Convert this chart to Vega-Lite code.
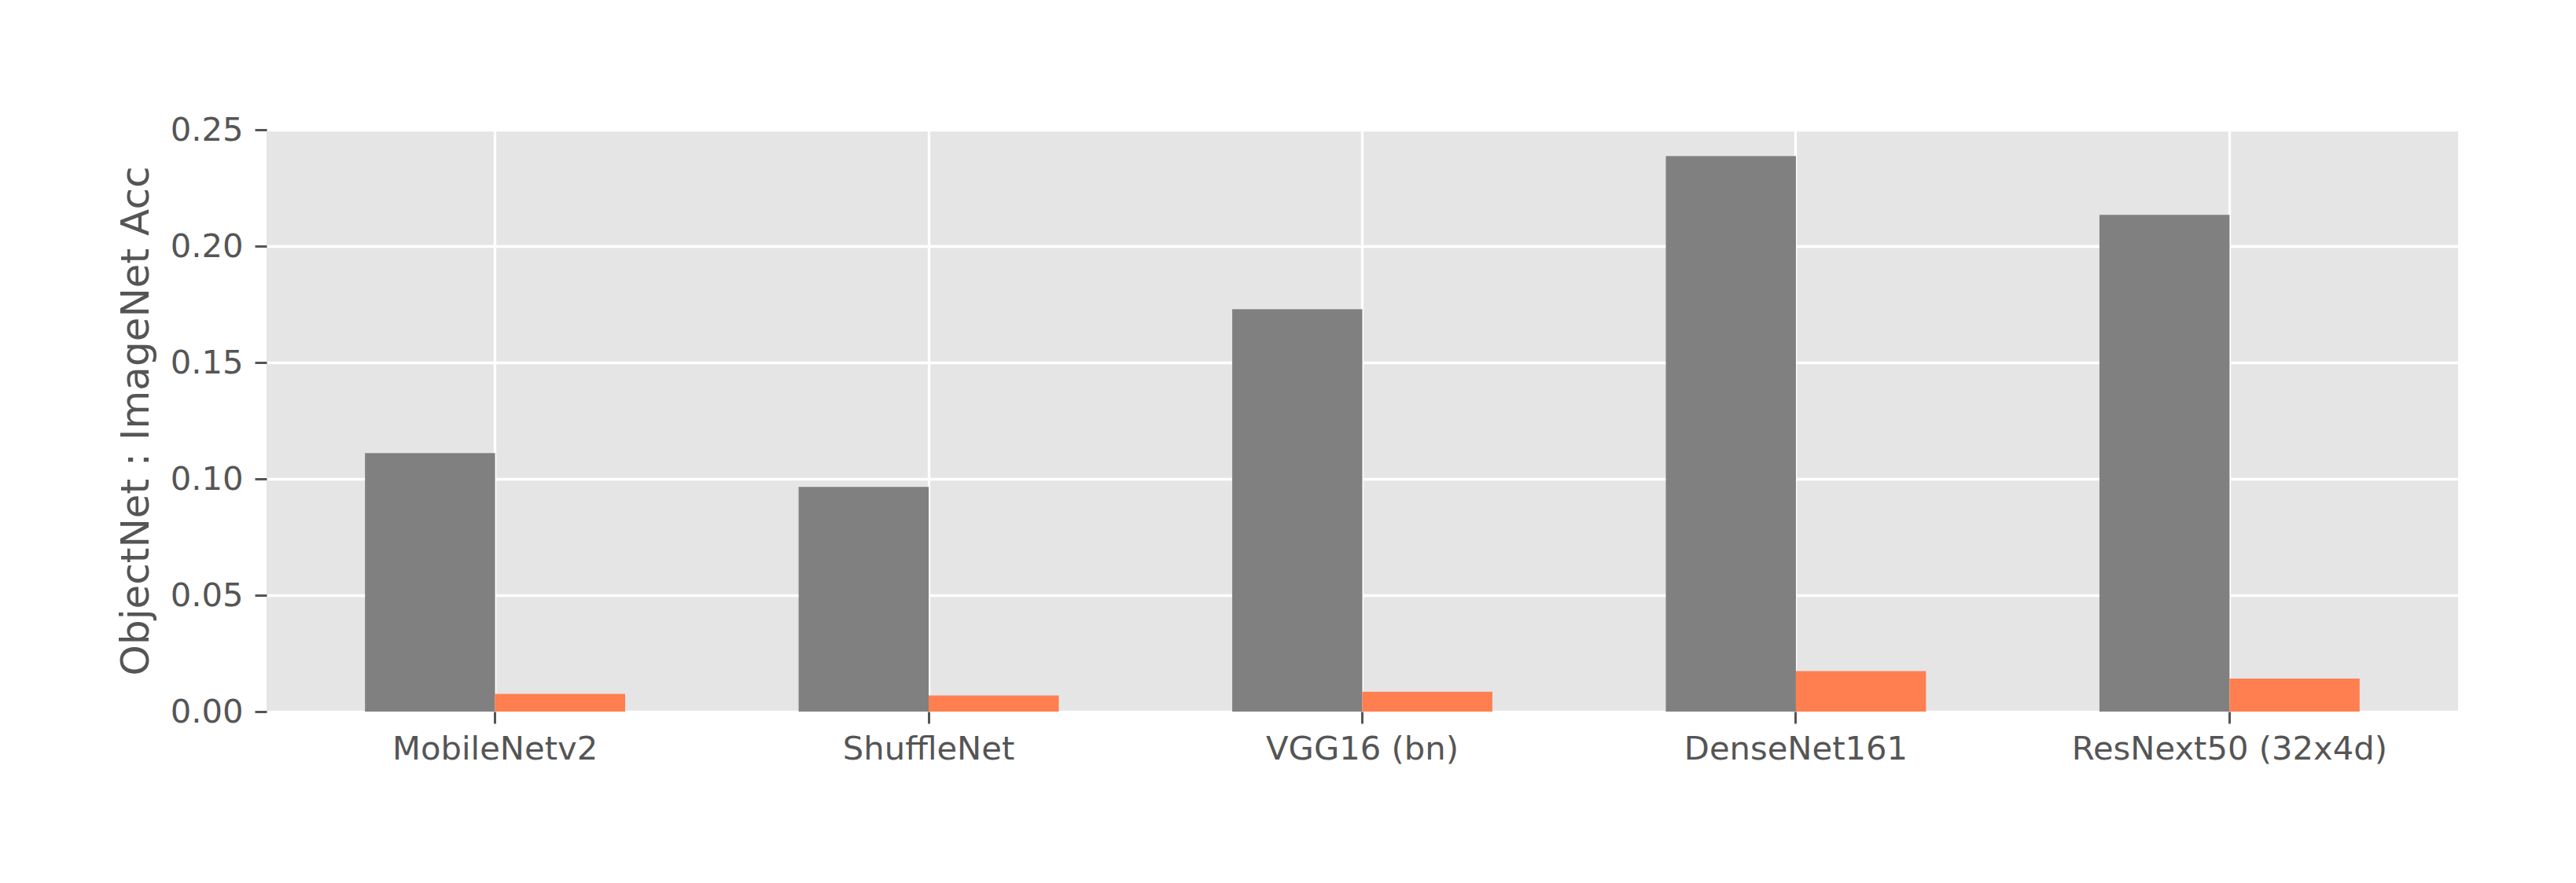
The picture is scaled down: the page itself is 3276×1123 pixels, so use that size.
{
  "$schema": "https://vega.github.io/schema/vega-lite/v6.json",
  "width": 2787,
  "height": 740,
  "autosize": {"type": "none"},
  "padding": {"left": 339, "top": 165, "right": 150, "bottom": 218},
  "background": "white",
  "config": {
    "view": {"fill": "#E5E5E5", "stroke": null},
    "font": "DejaVu Sans"
  },
  "data": {
    "values": [
      {"model": "MobileNetv2", "series": "s1", "ratio": 0.1111},
      {"model": "MobileNetv2", "series": "s2", "ratio": 0.0076},
      {"model": "ShuffleNet", "series": "s1", "ratio": 0.0965},
      {"model": "ShuffleNet", "series": "s2", "ratio": 0.0069},
      {"model": "VGG16 (bn)", "series": "s1", "ratio": 0.1729},
      {"model": "VGG16 (bn)", "series": "s2", "ratio": 0.0085},
      {"model": "DenseNet161", "series": "s1", "ratio": 0.2387},
      {"model": "DenseNet161", "series": "s2", "ratio": 0.0174},
      {"model": "ResNext50 (32x4d)", "series": "s1", "ratio": 0.2134},
      {"model": "ResNext50 (32x4d)", "series": "s2", "ratio": 0.0142}
    ]
  },
  "mark": {"type": "bar"},
  "encoding": {
    "x": {
      "field": "model",
      "type": "nominal",
      "sort": null,
      "scale": {"paddingInner": 0.4, "paddingOuter": 0.227},
      "axis": {
        "title": null,
        "labelAngle": 0,
        "labelLimit": 0,
        "bandPosition": 0.5,
        "grid": true,
        "gridColor": "white",
        "gridWidth": 3.3,
        "domain": false,
        "ticks": true,
        "tickColor": "#555555",
        "tickSize": 15,
        "tickWidth": 3,
        "labelFontSize": 41.7,
        "labelColor": "#555555",
        "labelPadding": 12
      }
    },
    "xOffset": {
      "field": "series",
      "type": "nominal",
      "sort": ["s1", "s2"],
      "scale": {"paddingInner": 0, "paddingOuter": 0}
    },
    "y": {
      "field": "ratio",
      "type": "quantitative",
      "scale": {"domain": [0, 0.25], "nice": false, "zero": true},
      "axis": {
        "title": "ObjectNet : ImageNet Acc",
        "titleFontSize": 50,
        "titleFontWeight": "normal",
        "titleColor": "#555555",
        "titlePadding": 18,
        "values": [0, 0.05, 0.1, 0.15, 0.2, 0.25],
        "format": ".2f",
        "grid": true,
        "gridColor": "white",
        "gridWidth": 3.3,
        "domain": false,
        "tickColor": "#555555",
        "tickSize": 15,
        "tickWidth": 3,
        "labelFontSize": 41.7,
        "labelColor": "#555555",
        "labelPadding": 15
      }
    },
    "color": {
      "field": "series",
      "type": "nominal",
      "scale": {"domain": ["s1", "s2"], "range": ["#808080", "#FF7F50"]},
      "legend": null
    }
  }
}
